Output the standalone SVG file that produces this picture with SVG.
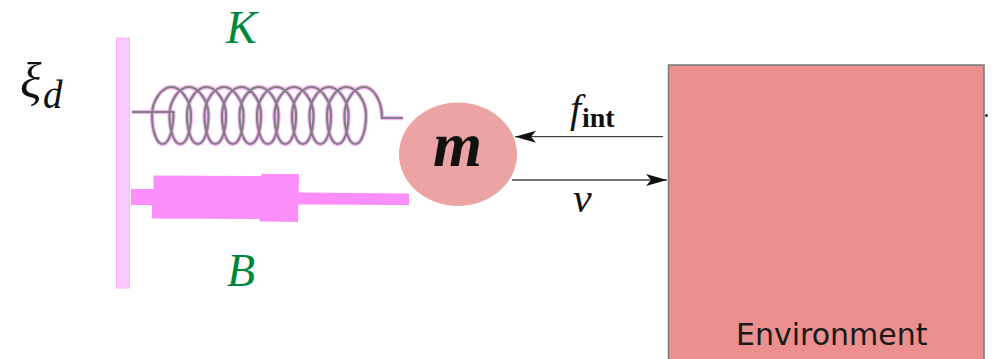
<svg xmlns="http://www.w3.org/2000/svg" width="992" height="359" viewBox="0 0 992 359">
<style>
.ser{font-family:"Liberation Serif",serif;font-style:italic}
.gain{fill:#00873e;font-size:46px}
.wire{fill:none;stroke:#444;stroke-width:1.3}
.glow{fill:none;stroke:#f9a4f9;stroke-width:4.4;stroke-linejoin:round;opacity:.8}
.coil{fill:none;stroke:#808080;stroke-width:2.2;stroke-linejoin:round}
.damp{fill:#fb8efb}
</style>
<defs>
<marker id="head" markerUnits="userSpaceOnUse" markerWidth="24" markerHeight="16" refX="21" refY="7" orient="auto">
<path d="M0 1 L21 7 L0 13 L5 7Z" fill="#111"/>
</marker>
<path id="spring" d="M132 112H173.500c0 16-4 32-10.750 32c-6.500 0-10.750-14-10.750-29c0-14.700 10-28 19.500-28
c8.900 0 19.500 13.300 19.500 28c0 14.700-4 29-10.750 29c-6.500 0-10.750-14.300-10.750-29c0-14.700 10-28 19.500-28
c8.900 0 19.500 13.300 19.500 28c0 14.700-4 29-10.750 29c-6.500 0-10.750-14.300-10.750-29c0-14.700 10-28 19.500-28
c8.900 0 19.500 13.300 19.500 28c0 14.700-4 29-10.750 29c-6.500 0-10.750-14.300-10.750-29c0-14.700 10-28 19.500-28
c8.900 0 19.500 13.300 19.500 28c0 14.700-4 29-10.750 29c-6.500 0-10.750-14.300-10.750-29c0-14.700 10-28 19.500-28
c8.900 0 19.500 13.300 19.500 28c0 14.700-4 29-10.750 29c-6.500 0-10.750-14.300-10.750-29c0-14.700 10-28 19.500-28
c8.900 0 19.500 13.300 19.500 28c0 14.700-4 29-10.750 29c-6.500 0-10.750-14.300-10.750-29c0-14.700 10-28 19.500-28
c8.900 0 19.500 13.300 19.500 28c0 14.700-4 29-10.750 29c-6.500 0-10.750-14.300-10.750-29c0-14.700 10-28 19.500-28
c8.900 0 19.500 13.300 19.500 28c0 14.700-4 29-10.750 29c-6.500 0-10.750-14.300-10.750-29c0-14.700 10-28 19.500-28
c8.900 0 19.500 13.300 19.500 28c0 14.700-4 29-10.750 29c-6.500 0-10.750-14.300-10.750-29c0-14.700 10-28 19.500-28
c8.900 0 19.500 13.300 19.500 28c0 14.700-4 29-10.750 29c-6.500 0-10.750-14.300-10.750-29c0-14.700 10-28 19.500-28
c8.900 0 19.500 13.300 19.500 28c0 14.700-4 29-10.750 29c-6.500 0-10.750-14.300-10.750-29c0-14.700 10-28 19.500-28
c9 0 18 13 18 31h21"/>
</defs>
<rect width="992" height="359" fill="#fff"/>

<g id="wall"><rect x="116.500" y="38" width="13" height="250" fill="#fdc8fd" stroke="#fcb6fc"/></g>
<g id="label-xi">
<text class="ser" x="20" y="98" font-size="50" fill="#111">ξ</text>
<text class="ser" x="43" y="108" font-size="39" fill="#111">d</text>
</g>
<g id="label-K"><text class="ser gain" x="226" y="43">K</text></g>
<g id="label-B"><text class="ser gain" x="227" y="286">B</text></g>

<g id="spring-node">
<use href="#spring" class="glow"/>
<use href="#spring" class="coil"/>
</g>

<g id="damper">
<polygon class="damp" points="131,189 153.500,189 153.500,175.500 261,176 261.500,174 299,174 298,222 260,221.500 259,219 152,218.500 152,205 131,205"/>
<polygon class="damp" points="298,192.500 409,193.500 409,205 298,204.500"/>
</g>

<g id="mass">
<ellipse cx="458" cy="154.300" rx="59" ry="51.700" fill="#eca3a3"/>
<text x="433" y="166" font-size="63" font-family="Liberation Serif, serif" font-weight="bold" font-style="italic" fill="#111">m</text>
</g>

<g id="environment">
<rect x="668.500" y="65" width="315.500" height="310" fill="#eb8f8f" stroke="#777" stroke-width="1.500"/>
<text x="736" y="345" font-size="30" font-family="DejaVu Sans, sans-serif" fill="#1a1a1a">Environment</text>
<circle cx="986.500" cy="115.500" r="1.500" fill="#333"/>
</g>

<g id="connectors">
<path class="wire" d="M663 136.700H515" marker-end="url(#head)"/>
<path class="wire" d="M512 180H667" marker-end="url(#head)"/>
</g>

<g id="label-fint">
<text class="ser" x="570" y="122" font-size="40" fill="#111">f</text>
<text x="582" y="127" font-size="28" font-family="Liberation Serif, serif" font-weight="bold" fill="#111">int</text>
</g>
<g id="label-v"><text class="ser" x="573" y="212" font-size="42" fill="#111">v</text></g>
</svg>
